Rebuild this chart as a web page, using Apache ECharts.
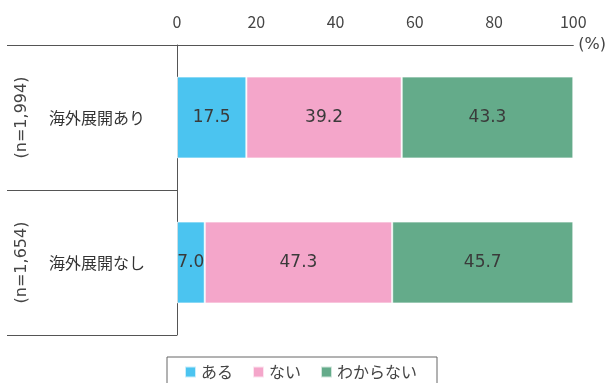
<!DOCTYPE html>
<html>
<head>
<meta charset="utf-8">
<script src="https://cdn.jsdelivr.net/npm/echarts@6/dist/echarts.min.js"></script>
<style>
  html, body { margin: 0; padding: 0; background: #fff; }
  #chart { width: 609px; height: 383px; }
</style>
</head>
<body>
<div id="chart"></div>
<script>
// Groups and their sample sizes
const categories = ['海外展開あり', '海外展開なし'];
const sampleLabels = ['(n=1,994)', '(n=1,654)'];

// Share of answers (%) per group
const seriesNames = ['ある', 'ない', 'わからない'];
const valuesAru = [17.5, 7.0];
const valuesNai = [39.2, 47.3];
const valuesWakaranai = [43.3, 45.7];

// Percent scale ticks
const axisMin = 0;
const axisMax = 100;
const axisStep = 20;

const colors = ['#4BC4F0', '#F4A6CA', '#64AB8A'];
const fontFamily = '"Noto Sans CJK JP", "Noto Sans", sans-serif';
const wideFont = '"DejaVu Sans", "Noto Sans CJK JP", sans-serif';
const lineColor = '#555';

const chart = echarts.init(document.getElementById('chart'), null, { renderer: 'canvas' });

function barSeries(name, data, color) {
  return {
    name: name,
    type: 'bar',
    stack: 'total',
    barWidth: 82,
    data: data,
    itemStyle: { color: color, borderColor: 'rgba(255,255,255,0.7)', borderWidth: 1 },
    label: {
      show: true,
      position: 'inside',
      color: '#3a3a3a',
      fontSize: 17,
      fontFamily: wideFont,
      formatter: p => p.value.toFixed(1)
    },
    emphasis: { disabled: true }
  };
}

chart.setOption({
  animation: false,
  textStyle: { fontFamily: fontFamily },
  grid: { left: 177, right: 35, top: 45, bottom: 48 },
  legend: {
    data: seriesNames,
    left: 167,
    top: 357,
    icon: 'rect',
    itemWidth: 11,
    itemHeight: 11,
    itemGap: 19,
    padding: [7, 20, 10, 17],
    borderColor: '#666',
    borderWidth: 1,
    selectedMode: false,
    textStyle: { color: '#444', fontSize: 16, fontFamily: fontFamily }
  },
  xAxis: {
    type: 'value',
    position: 'top',
    min: axisMin,
    max: axisMax,
    interval: axisStep,
    name: '(%)',
    nameLocation: 'end',
    nameGap: 5,
    nameTextStyle: { color: '#444', fontSize: 16, fontFamily: wideFont },
    axisLine: { show: true, lineStyle: { color: lineColor, width: 1 } },
    axisTick: { show: false },
    splitLine: { show: false },
    axisLabel: { color: '#444', fontSize: 16, margin: 15, fontFamily: fontFamily }
  },
  yAxis: [
    {
      type: 'category',
      data: categories,
      inverse: true,
      position: 'left',
      axisLine: { show: true, lineStyle: { color: lineColor, width: 1 } },
      // long ticks at band edges form the row separators of the label table
      axisTick: { show: true, length: 170, interval: 0, lineStyle: { color: lineColor, width: 1 } },
      axisLabel: { color: '#333', fontSize: 16, margin: 80, align: 'center', fontFamily: fontFamily }
    },
    {
      type: 'category',
      data: sampleLabels,
      inverse: true,
      position: 'left',
      axisLine: { show: false },
      axisTick: { show: false },
      axisLabel: { color: '#444', fontSize: 16, rotate: 90, margin: 147, fontFamily: wideFont }
    }
  ],
  series: [
    barSeries(seriesNames[0], valuesAru, colors[0]),
    barSeries(seriesNames[1], valuesNai, colors[1]),
    barSeries(seriesNames[2], valuesWakaranai, colors[2])
  ]
});
</script>
</body>
</html>
